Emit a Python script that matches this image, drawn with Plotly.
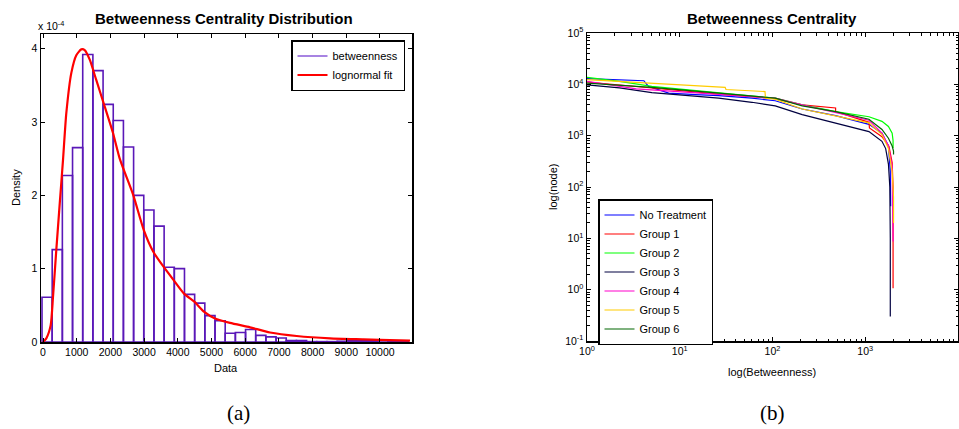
import plotly.graph_objects as go

W, H = 959, 429

# ---------------- Panel (a): histogram + lognormal fit ----------------
bin_centers = [121, 423, 725, 1027, 1329, 1631, 1933, 2235, 2537, 2839, 3141, 3443,
               3745, 4047, 4349, 4651, 4953, 5255, 5557, 5859, 6161, 6463, 6765, 7067,
               7369, 7671, 7973, 8275, 8577, 8879, 9181, 9483, 9785, 10087, 10389, 10691]
density_e4 = [0.61, 1.26, 2.27, 2.65, 3.92, 3.70, 3.24, 3.02, 2.66, 2.00, 1.80, 1.58,
              1.02, 1.00, 0.65, 0.53, 0.36, 0.29, 0.12, 0.13, 0.17, 0.09, 0.07, 0.055,
              0.02, 0.02, 0.005, 0.005, 0.005, 0.01, 0.02, 0.02, 0.02, 0.03, 0.005, 0.005]

fit_x = [0, 98, 228, 297, 395, 496, 593, 691, 840, 988, 1136, 1237, 1386, 1582, 1831,
         2077, 2276, 2680, 2988, 3273, 3570, 3866, 4184, 4490, 4786, 5104, 5549, 6142,
         6736, 7527, 8516, 9505, 10000, 10890]
fit_y_e4 = [0.0, 0.05, 0.23, 0.62, 1.26, 1.89, 2.48, 3.12, 3.67, 3.91, 3.99, 3.98, 3.85,
            3.57, 3.21, 2.85, 2.5, 2.0, 1.53, 1.23, 1.03, 0.85, 0.66, 0.55, 0.41, 0.32,
            0.26, 0.20, 0.13, 0.082, 0.05, 0.037, 0.03, 0.018]

a_xticks = [0, 1000, 2000, 3000, 4000, 5000, 6000, 7000, 8000, 9000, 10000]
a_yticks = [0, 1, 2, 3, 4]

# ---------------- Panel (b): betweenness centrality rank curves ----------------
series_names = ["No Treatment", "Group 1", "Group 2", "Group 3", "Group 4", "Group 5", "Group 6"]

nt_x = [1, 4.1, 4.6, 7.6, 14.8, 26.3, 60, 107, 209, 479, 1096, 1514, 1778, 1862, 1880]
nt_y = [12900, 11750, 9100, 6760, 6310, 6030, 5370, 4790, 3310, 2450, 1660, 1120, 630, 200, 42]

g1_x = [1, 5.0, 11.5, 26.3, 60, 107, 209, 479, 479, 1096, 1110, 1514, 1800, 1950, 1995, 1995]
g1_y = [11100, 8500, 7240, 6460, 5750, 5250, 3980, 3470, 2950, 1820, 1410, 955, 620, 300, 100, 1.07]

g2_x = [1, 2.24, 5.0, 11.5, 26.3, 60, 107, 209, 479, 1096, 1514, 1778, 1950, 1995, 1995]
g2_y = [13650, 11400, 9100, 7940, 6900, 6030, 5370, 3980, 2950, 2340, 1900, 1510, 1120, 800, 575]

g3_x = [1, 2.24, 5.0, 7.6, 26.3, 60, 107, 209, 479, 1096, 1514, 1660, 1778, 1841, 1862, 1862]
g3_y = [9800, 8500, 6900, 6460, 5370, 4470, 3800, 2570, 1780, 1200, 776, 560, 280, 100, 10, 0.3]

g4_x = [1, 3.4, 11.5, 60, 107, 209, 479, 1096, 1514, 1778, 1950, 1995, 1995]
g4_y = [11400, 8130, 7080, 5750, 5370, 3980, 2820, 2000, 1120, 630, 250, 32, 8.7]

g5_x = [1, 4.2, 11.5, 30.9, 31.5, 83, 84, 107, 209, 479, 1096, 1514, 1778, 1950, 2018, 2018]
g5_y = [12300, 10600, 9800, 8700, 7940, 7240, 5370, 5130, 3310, 2450, 1780, 1050, 560, 200, 63, 20]

g6_x = [1, 5.0, 26.3, 107, 209, 479, 1096, 1514, 1778, 1950, 2018, 2018]
g6_y = [10600, 8700, 6760, 5370, 3800, 2950, 2090, 1320, 890, 630, 500, 430]

b_xticks = [1, 10, 100, 1000, 10000]
b_xticktext = ["10<sup>0</sup>", "10<sup>1</sup>", "10<sup>2</sup>", "10<sup>3</sup>", "10<sup>4</sup>"]
b_yticks = [0.1, 1, 10, 100, 1000, 10000, 100000]
b_yticktext = ["10<sup>-1</sup>", "10<sup>0</sup>", "10<sup>1</sup>", "10<sup>2</sup>",
               "10<sup>3</sup>", "10<sup>4</sup>", "10<sup>5</sup>"]

series_x = [nt_x, g1_x, g2_x, g3_x, g4_x, g5_x, g6_x]
series_y = [nt_y, g1_y, g2_y, g3_y, g4_y, g5_y, g6_y]
series_colors = ["#0000FF", "#FF0000", "#00FF00", "#000040", "#FF00CC", "#FFCC00", "#006600"]

FONT = "Liberation Sans, Arial, sans-serif"
SERIF = "Liberation Serif, Times New Roman, serif"
BAR_EDGE = "#5A18B8"


def fx(p):
    return p / W


def fy(p):
    return 1 - p / H


fig = go.Figure()

fig.add_trace(go.Bar(
    x=bin_centers, y=density_e4, name="betweenness", showlegend=False,
    marker=dict(color="rgba(255,255,255,0)", line=dict(color=BAR_EDGE, width=1.6)),
    xaxis="x", yaxis="y",
))
# legend-only entry so the histogram key is drawn as a line, as in the original
fig.add_trace(go.Scatter(
    x=[None], y=[None], mode="lines", name="betweenness",
    line=dict(color="#8A5AD8", width=1.5),
    xaxis="x", yaxis="y", legend="legend",
))
fig.add_trace(go.Scatter(
    x=fit_x, y=fit_y_e4, mode="lines", name="lognormal fit",
    line=dict(color="#FF0000", width=2.2, shape="spline", smoothing=0.6),
    xaxis="x", yaxis="y", legend="legend",
))

for name, xs, ys, c in zip(series_names, series_x, series_y, series_colors):
    fig.add_trace(go.Scatter(
        x=xs, y=ys, mode="lines", name=name,
        line=dict(color=c, width=1.2),
        xaxis="x2", yaxis="y2", legend="legend2",
    ))

axis_common = dict(
    showline=True, linecolor="black", linewidth=1.5, mirror="ticks",
    ticks="inside", ticklen=4, tickcolor="black", tickwidth=1,
    showgrid=False, zeroline=False, automargin=False,
    tickfont=dict(family=FONT, size=10.5, color="black"),
)

fig.update_layout(
    width=W, height=H,
    margin=dict(l=0, r=0, t=0, b=0, autoexpand=False),
    paper_bgcolor="white", plot_bgcolor="white",
    bargap=0,
    font=dict(family=FONT, size=10.5, color="black"),
    xaxis=dict(domain=[fx(41), fx(412)], range=[-60, 10950],
               tickvals=a_xticks, ticktext=[str(v) for v in a_xticks],
               anchor="y", **axis_common),
    yaxis=dict(domain=[fy(342), fy(34)], range=[0, 4.2],
               tickvals=a_yticks, ticktext=[str(v) for v in a_yticks],
               anchor="x", **axis_common),
    xaxis2=dict(domain=[fx(587), fx(958)], type="log", range=[0, 4],
                tickvals=b_xticks, ticktext=b_xticktext, anchor="y2",
                minor=dict(ticks="inside", ticklen=2.5, dtick="D1", tickcolor="black", showgrid=False),
                **axis_common),
    yaxis2=dict(domain=[fy(341), fy(33)], type="log", range=[-1, 5],
                tickvals=b_yticks, ticktext=b_yticktext, anchor="x2",
                minor=dict(ticks="inside", ticklen=2.5, dtick="D1", tickcolor="black", showgrid=False),
                **axis_common),
    legend=dict(x=fx(291), y=fy(40), xanchor="left", yanchor="top",
                bgcolor="white", bordercolor="black", borderwidth=1.5,
                font=dict(family=FONT, size=11, color="black"),
                tracegroupgap=0),
    legend2=dict(x=fx(598), y=fy(199), xanchor="left", yanchor="top",
                 bgcolor="white", bordercolor="black", borderwidth=1.5,
                 font=dict(family=FONT, size=11, color="black"),
                 tracegroupgap=0),
    showlegend=True,
)

annotations = [
    dict(text="<b>Betweenness Centrality Distribution</b>", x=fx(224), y=fy(19),
         font=dict(family=FONT, size=15)),
    dict(text="x 10<sup>-4</sup>", x=fx(51), y=fy(26), font=dict(family=FONT, size=10.5)),
    dict(text="Data", x=fx(226), y=fy(368), font=dict(family=FONT, size=11)),
    dict(text="Density", x=fx(16), y=fy(188), textangle=-90, font=dict(family=FONT, size=11)),
    dict(text="<b>Betweenness Centrality</b>", x=fx(772), y=fy(19),
         font=dict(family=FONT, size=15)),
    dict(text="log(Betweenness)", x=fx(772), y=fy(372), font=dict(family=FONT, size=11)),
    dict(text="log(node)", x=fx(553), y=fy(187), textangle=-90, font=dict(family=FONT, size=11)),
    dict(text="(a)", x=fx(238), y=fy(413), font=dict(family=SERIF, size=21)),
    dict(text="(b)", x=fx(772), y=fy(413), font=dict(family=SERIF, size=21)),
]
for a in annotations:
    a.update(xref="paper", yref="paper", showarrow=False, xanchor="center", yanchor="middle")
fig.update_layout(annotations=annotations)

fig.write_html(
    "out.html",
    config={"displayModeBar": False, "staticPlot": True},
    post_script="document.body.style.margin='0';document.body.style.overflow='hidden';",
)
